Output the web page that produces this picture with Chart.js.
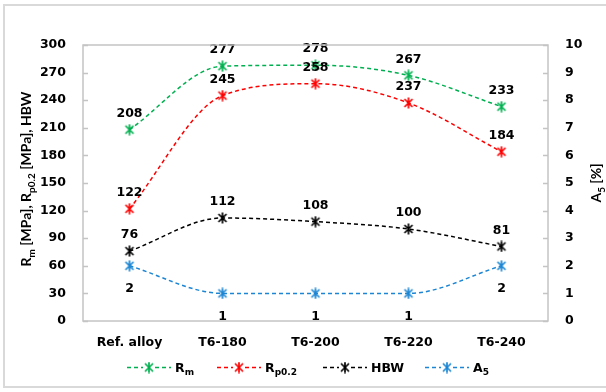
<!DOCTYPE html>
<html>
<head>
<meta charset="utf-8">
<script src="https://cdn.jsdelivr.net/npm/chart.js@4"></script>
<style>
  html, body { margin: 0; padding: 0; background: #fff; }
  canvas { display: block; }
</style>
</head>
<body>
<canvas id="chart" width="606" height="392"></canvas>
<script>
// data
const categories = ["Ref. alloy", "T6-180", "T6-200", "T6-220", "T6-240"];
const rmValues = [208, 277, 278, 267, 233];
const rp02Values = [122, 245, 258, 237, 184];
const hbwValues = [76, 112, 108, 100, 81];
const a5Values = [2, 1, 1, 1, 2];
const seriesLabels = ["R_{m}", "R_{p0.2}", "HBW", "A_{5}"];
const leftTicks = [0, 30, 60, 90, 120, 150, 180, 210, 240, 270, 300];
const rightTicks = [0, 1, 2, 3, 4, 5, 6, 7, 8, 9, 10];
const leftTitle = "R_{m} [MPa], R_{p0.2} [MPa], HBW";
const rightTitle = "A_{5} [%]";

const FAMILY = '"DejaVu Sans", sans-serif';
const SIZE = 12.5;
const FONT = "bold " + SIZE + "px " + FAMILY;
const SUBFONT = "bold " + (SIZE * 0.72) + "px " + FAMILY;
// rotated titles are not stretched in the picture, so a narrower face
const TFONT = "bold 14px Lato, sans-serif";
const TSUBFONT = "bold 10px Lato, sans-serif";

// excel-like star marker: X plus vertical bar
function starMarker(color) {
  const c = document.createElement("canvas");
  c.width = 12; c.height = 12;
  const g = c.getContext("2d");
  g.strokeStyle = color;
  g.lineWidth = 1.7;
  g.beginPath();
  g.moveTo(2, 2); g.lineTo(10, 10);
  g.moveTo(10, 2); g.lineTo(2, 10);
  g.moveTo(6, 0.5); g.lineTo(6, 11.5);
  g.stroke();
  return c;
}

// split "R_{m}" into parts
function parseRich(str) {
  const parts = [];
  const re = /_\{([^}]*)\}/g;
  let last = 0, m;
  while ((m = re.exec(str)) !== null) {
    if (m.index > last) parts.push({ t: str.slice(last, m.index), sub: false });
    parts.push({ t: m[1], sub: true });
    last = re.lastIndex;
  }
  if (last < str.length) parts.push({ t: str.slice(last), sub: false });
  return parts;
}

function richWidth(ctx, parts, f, sf) {
  let w = 0;
  parts.forEach(p => { ctx.font = p.sub ? sf : f; w += ctx.measureText(p.t).width; });
  return w;
}

function drawRich(ctx, parts, x, y, f, sf) {
  parts.forEach(p => {
    ctx.font = p.sub ? sf : f;
    ctx.fillText(p.t, x, p.sub ? y + 3.5 : y);
    x += ctx.measureText(p.t).width;
  });
}

const colors = ["#00b050", "#ff0000", "#000000", "#1c86d4"];
const markers = colors.map(starMarker);
const labelPos = ["above", "above", "above", "below"];

function makeSet(i, values, axis) {
  return {
    label: seriesLabels[i],
    data: values,
    yAxisID: axis,
    borderColor: colors[i],
    backgroundColor: colors[i],
    borderWidth: 1.5,
    borderDash: [4, 3],
    cubicInterpolationMode: "monotone",
    pointStyle: markers[i],
    pointRadius: 6,
    fill: false
  };
}

const framePlugin = {
  id: "frame",
  beforeDraw(chart) {
    const ctx = chart.ctx;
    ctx.save();
    ctx.strokeStyle = "#d9d9d9";
    ctx.lineWidth = 2;
    ctx.strokeRect(4, 5, 620, 382);
    ctx.restore();
  },
  afterDraw(chart) {
    const ctx = chart.ctx;
    const a = chart.chartArea;
    const y = chart.scales.y, y1 = chart.scales.y1;
    ctx.save();
    ctx.strokeStyle = "#c4c4c4";
    ctx.lineWidth = 1.5;
    ctx.strokeRect(a.left, a.top, a.right - a.left, a.bottom - a.top);
    ctx.beginPath();
    leftTicks.forEach(v => {
      const py = Math.round(y.getPixelForValue(v)) + 0.5;
      ctx.moveTo(a.left, py); ctx.lineTo(a.left + 5, py);
    });
    rightTicks.forEach(v => {
      const py = Math.round(y1.getPixelForValue(v)) + 0.5;
      ctx.moveTo(a.right, py); ctx.lineTo(a.right - 5, py);
    });
    ctx.stroke();

    // axis titles
    ctx.fillStyle = "#000";
    ctx.textBaseline = "alphabetic";
    ctx.textAlign = "left";
    const lp = parseRich(leftTitle);
    ctx.save();
    ctx.translate(31, (a.top + a.bottom) / 2 - 4);
    ctx.rotate(-Math.PI / 2);
    drawRich(ctx, lp, -richWidth(ctx, lp, TFONT, TSUBFONT) / 2, 0, TFONT, TSUBFONT);
    ctx.restore();
    const rp = parseRich(rightTitle);
    ctx.save();
    ctx.translate(601, (a.top + a.bottom) / 2);
    ctx.rotate(-Math.PI / 2);
    drawRich(ctx, rp, -richWidth(ctx, rp, TFONT, TSUBFONT) / 2, 0, TFONT, TSUBFONT);
    ctx.restore();

    // legend
    const legendX = [127, 217, 323, 425];
    const ly = 367;
    chart.data.datasets.forEach((ds, i) => {
      const x0 = legendX[i];
      ctx.strokeStyle = colors[i];
      ctx.lineWidth = 1.5;
      ctx.setLineDash([4, 3]);
      ctx.beginPath();
      ctx.moveTo(x0, ly + 0.5); ctx.lineTo(x0 + 16, ly + 0.5);
      ctx.moveTo(x0 + 28, ly + 0.5); ctx.lineTo(x0 + 44, ly + 0.5);
      ctx.stroke();
      ctx.setLineDash([]);
      ctx.drawImage(markers[i], x0 + 22 - 6, ly - 5.5);
      ctx.fillStyle = "#000";
      drawRich(ctx, parseRich(ds.label), x0 + 48, ly + 4.5, FONT, SUBFONT);
    });
    ctx.restore();
  }
};

const labelPlugin = {
  id: "valueLabels",
  afterDatasetsDraw(chart) {
    const ctx = chart.ctx;
    ctx.save();
    ctx.font = FONT;
    ctx.fillStyle = "#000";
    ctx.textAlign = "center";
    ctx.textBaseline = "middle";
    chart.data.datasets.forEach((ds, i) => {
      const meta = chart.getDatasetMeta(i);
      meta.data.forEach((pt, j) => {
        const dy = labelPos[i] === "above" ? -16 : 23;
        ctx.fillText(String(ds.data[j]), pt.x, pt.y + dy);
      });
    });
    ctx.restore();
  }
};

const tickFont = { family: FAMILY, size: SIZE, weight: "bold" };

new Chart(document.getElementById("chart").getContext("2d"), {
  type: "line",
  data: {
    labels: categories,
    datasets: [
      makeSet(0, rmValues, "y"),
      makeSet(1, rp02Values, "y"),
      makeSet(2, hbwValues, "y"),
      makeSet(3, a5Values, "y1")
    ]
  },
  options: {
    responsive: false,
    animation: false,
    layout: { padding: { top: 45, left: 0, right: 0, bottom: 0 } },
    plugins: { legend: { display: false }, tooltip: { enabled: false } },
    scales: {
      x: {
        offset: true,
        grid: { display: false, drawTicks: false },
        border: { display: false },
        ticks: { color: "#000", font: tickFont, padding: 14, maxRotation: 0 },
        afterFit(s) { s.height = 71; }
      },
      y: {
        position: "left",
        min: 0, max: 300,
        grid: { display: false, drawTicks: false },
        border: { display: false },
        ticks: { color: "#000", font: tickFont, padding: 17 },
        afterBuildTicks(s) { s.ticks = leftTicks.map(v => ({ value: v })); },
        afterFit(s) { s.width = 83; }
      },
      y1: {
        position: "right",
        min: 0, max: 10,
        grid: { display: false, drawTicks: false },
        border: { display: false },
        ticks: { color: "#000", font: tickFont, padding: 17 },
        afterBuildTicks(s) { s.ticks = rightTicks.map(v => ({ value: v })); },
        afterFit(s) { s.width = 58; }
      }
    }
  },
  plugins: [framePlugin, labelPlugin]
});
</script>
</body>
</html>
